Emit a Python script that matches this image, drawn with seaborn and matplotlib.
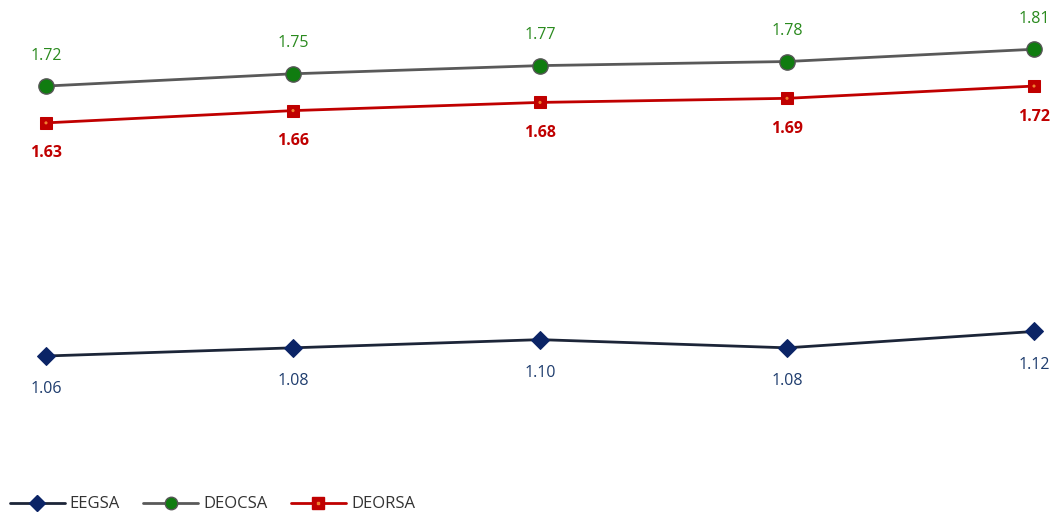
import seaborn as sns
import matplotlib.pyplot as plt
from matplotlib.lines import Line2D

sns.set_style('white')
plt.rcParams['font.family'] = ['Open Sans', 'DejaVu Sans']

# datos
periodos = [1, 2, 3, 4, 5]
eegsa = [1.06, 1.08, 1.10, 1.08, 1.12]
deocsa = [1.72, 1.75, 1.77, 1.78, 1.81]
deorsa = [1.63, 1.66, 1.68, 1.69, 1.72]

fig = plt.figure(figsize=(10.55, 5.16), dpi=100)
ax = fig.add_axes([0, 0, 1, 1])

# EEGSA
sns.lineplot(x=periodos, y=eegsa, ax=ax, color='#1c2538', lw=2,
             marker='D', markersize=9, markerfacecolor='#0b2466',
             markeredgecolor='#0b2466')
# DEOCSA
sns.lineplot(x=periodos, y=deocsa, ax=ax, color='#595959', lw=2,
             marker='o', markersize=11, markerfacecolor='#107c10',
             markeredgecolor='#555555', markeredgewidth=1)
# DEORSA
sns.lineplot(x=periodos, y=deorsa, ax=ax, color='#c00000', lw=2,
             marker='s', markersize=9, markerfacecolor='#c00000',
             markeredgecolor='#c00000')
sns.scatterplot(x=periodos, y=deorsa, ax=ax, color='#f08030', s=5,
                edgecolor='none', zorder=5)

# etiquetas de datos
for x, v in zip(periodos, eegsa):
    ax.annotate(f'{v:.2f}', (x, v), xytext=(0, -24), textcoords='offset points',
                ha='center', va='center', fontsize=11.5, color='#1f3d6e')
for x, v in zip(periodos, deocsa):
    ax.annotate(f'{v:.2f}', (x, v), xytext=(0, 22), textcoords='offset points',
                ha='center', va='center', fontsize=11.5, color='#2a8a1e')
for x, v in zip(periodos, deorsa):
    ax.annotate(f'{v:.2f}', (x, v), xytext=(0, -22), textcoords='offset points',
                ha='center', va='center', fontsize=11.5, color='#c00000',
                fontweight='bold')

ax.set_xlim(1 - 46 / 247, 5 + 21 / 247)
ax.set_ylim(1.06 - 160 / 409, 1.06 + 356 / 409)
ax.axis('off')

h1 = Line2D([], [], color='#1c2538', lw=2, marker='D', markersize=8,
            markerfacecolor='#0b2466', markeredgecolor='#0b2466')
h2 = Line2D([], [], color='#595959', lw=2, marker='o', markersize=9,
            markerfacecolor='#107c10', markeredgecolor='#555555')
h3 = Line2D([], [], color='#c00000', lw=2, marker='s', markersize=8,
            markerfacecolor='#c00000', markeredgecolor='#c00000')
h3b = Line2D([], [], ls='none', marker='s', markersize=2,
             markerfacecolor='#f08030', markeredgecolor='#f08030')
fig.legend([h1, h2, (h3, h3b)], ['EEGSA', 'DEOCSA', 'DEORSA'],
           loc='lower left', bbox_to_anchor=(-0.005, -0.022), ncol=3,
           frameon=False, fontsize=12, handlelength=3.3, handletextpad=0.3,
           columnspacing=1.4, labelcolor='#333333')

fig.savefig('out.png', dpi=100)
